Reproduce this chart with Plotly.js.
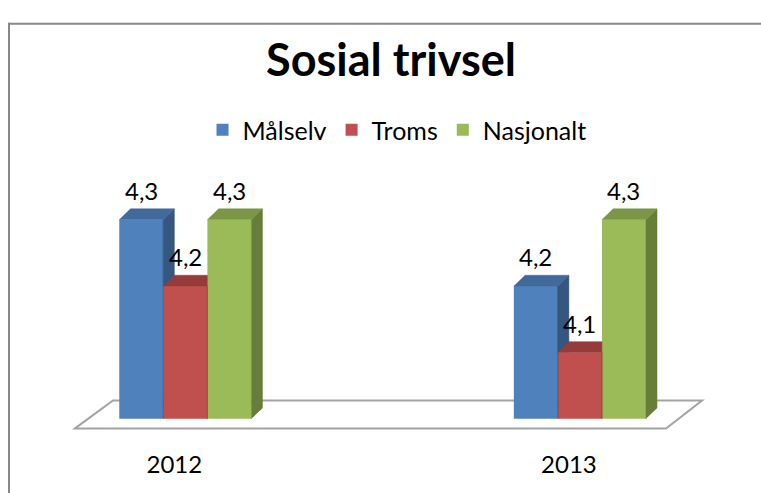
<!DOCTYPE html>
<html><head><meta charset="utf-8">
<script src="https://cdn.plot.ly/plotly-3.0.1.min.js"></script>
<style>html,body{margin:0;padding:0;background:#fff;}#chart{width:761px;height:493px;}</style>
</head><body><div id="chart"></div>
<script>
// ---- data ----
const categories = ['2012', '2013'];
const seriesNames = ['Målselv', 'Troms', 'Nasjonalt'];
const malselv = [4.3, 4.2];
const troms = [4.2, 4.1];
const nasjonalt = [4.3, 4.3];

// ---- style ----
const frontColors = ['#4F81BD', '#C0504D', '#9BBB59'];
const topColors = ['#41699A', '#953B39', '#7B9646'];
const sideColors = ['#35567F', '#843432', '#667E3A'];
const FONT = 'Lato, Carlito, "Liberation Sans", sans-serif';
const W = 761, H = 493;
const M = {l: 67, r: 43, t: 142, b: 41};
const xRange = [-0.3, 1.35], yRange = [3.95, 4.4];
const BASE = 4.0;
const BARGAP = 0.665;
const pxX = (W - M.l - M.r) / (xRange[1] - xRange[0]);
const pxY = (H - M.t - M.b) / (yRange[1] - yRange[0]);
const dxU = 11 / pxX, dyU = 11 / pxY;

const series = [malselv, troms, nasjonalt];
const xs = categories.map((c, i) => i);
const nS = series.length;
const bw = (1 - BARGAP) / nS;

function clip(poly, inside, inter) {
  const out = [];
  for (let i = 0; i < poly.length; i++) {
    const a = poly[i], b = poly[(i + 1) % poly.length];
    const ia = inside(a), ib = inside(b);
    if (ia) out.push(a);
    if (ia !== ib) out.push(inter(a, b));
  }
  return out;
}
const clipX = (poly, x0, keepLeft) => clip(poly,
  p => keepLeft ? p[0] <= x0 + 1e-12 : p[0] >= x0 - 1e-12,
  (a, b) => { const t = (x0 - a[0]) / (b[0] - a[0]); return [x0, a[1] + t * (b[1] - a[1])]; });
const clipY = (poly, y0) => clip(poly,
  p => p[1] >= y0 - 1e-12,
  (a, b) => { const t = (y0 - a[1]) / (b[1] - a[1]); return [a[0] + t * (b[0] - a[0]), y0]; });

function visiblePieces(poly, xr, vn) {
  if (vn === null) return [poly];
  const minY = Math.min(...poly.map(p => p[1]));
  if (minY >= vn) return [poly];
  const pieces = [];
  const left = clipX(poly, xr, true);
  if (left.length >= 3) pieces.push(left);
  const right = clipY(clipX(poly, xr, false), vn);
  if (right.length >= 3) pieces.push(right);
  return pieces;
}

const traces = [];
// front faces as bars
series.forEach((vals, s) => {
  traces.push({
    type: 'bar', name: seriesNames[s], x: xs, y: vals.map(v => v - BASE), base: BASE,
    marker: {color: frontColors[s], line: {width: 0}}, hoverinfo: 'skip'
  });
});
// top and side faces
series.forEach((vals, s) => {
  const topX = [], topY = [], sideX = [], sideY = [];
  xs.forEach((c, i) => {
    const v = vals[i];
    const xc = c + (s - (nS - 1) / 2) * bw;
    const xl = xc - bw / 2, xr = xc + bw / 2;
    const vn = s < nS - 1 ? series[s + 1][i] : null;
    const top = [[xl, v], [xr, v], [xr + dxU, v + dyU], [xl + dxU, v + dyU]];
    const side = [[xr, BASE], [xr, v], [xr + dxU, v + dyU], [xr + dxU, BASE + dyU]];
    visiblePieces(top, xr, vn).forEach(p => { p.forEach(q => { topX.push(q[0]); topY.push(q[1]); }); topX.push(null); topY.push(null); });
    visiblePieces(side, xr, vn).forEach(p => { p.forEach(q => { sideX.push(q[0]); sideY.push(q[1]); }); sideX.push(null); sideY.push(null); });
  });
  traces.push({type: 'scatter', mode: 'lines', x: sideX, y: sideY, fill: 'toself', fillcolor: sideColors[s],
    line: {color: sideColors[s], width: 0.5}, showlegend: false, hoverinfo: 'skip', connectgaps: false});
  traces.push({type: 'scatter', mode: 'lines', x: topX, y: topY, fill: 'toself', fillcolor: topColors[s],
    line: {color: topColors[s], width: 0.5}, showlegend: false, hoverinfo: 'skip', connectgaps: false});
});

// value labels
const annotations = [];
series.forEach((vals, s) => {
  xs.forEach((c, i) => {
    const xc = c + (s - (nS - 1) / 2) * bw;
    annotations.push({x: xc, y: vals[i] + dyU, xref: 'x', yref: 'y', yanchor: 'bottom', xanchor: 'center',
      text: String(vals[i]).replace('.', ','), showarrow: false, font: {family: FONT, size: 24, color: '#000'}, yshift: 2});
  });
});

// floor & border
const fxL = -0.2797, fxLb = -0.1834, fxRb = 1.3096, fxR = 1.2183;
const fyF = BASE - 10 / pxY, fyB = BASE + 19 / pxY;
const plotW = W - M.l - M.r, plotH = H - M.t - M.b;
const px2paperX = p => (p - M.l) / plotW, px2paperY = p => 1 - (p - M.t) / plotH;
const shapes = [
  {type: 'path', xref: 'x', yref: 'y', layer: 'below',
   path: `M${fxL},${fyF} L${fxLb},${fyB} L${fxRb},${fyB} L${fxR},${fyF} Z`,
   line: {color: '#A3A3A3', width: 2}},
  {type: 'line', xref: 'paper', yref: 'paper', x0: px2paperX(9), x1: px2paperX(9), y0: px2paperY(7), y1: px2paperY(500),
   line: {color: '#888888', width: 2}},
  {type: 'line', xref: 'paper', yref: 'paper', x0: px2paperX(8), x1: px2paperX(770), y0: px2paperY(8), y1: px2paperY(8),
   line: {color: '#888888', width: 2}}
];

const layout = {
  width: W, height: H, margin: M, paper_bgcolor: '#fff', plot_bgcolor: 'rgba(0,0,0,0)',
  title: {text: '<b>Sosial trivsel</b>', font: {family: FONT, size: 45, color: '#000'},
          xref: 'container', yref: 'container', x: 391 / W, xanchor: 'center', y: 1 - 60 / H, yanchor: 'middle'},
  legend: {orientation: 'h', xref: 'container', yref: 'container', x: 397 / W, xanchor: 'center',
           y: 1 - 130 / H, yanchor: 'middle', font: {family: FONT, size: 25, color: '#000'}, traceorder: 'normal'},
  barmode: 'group', bargap: BARGAP, bargroupgap: 0,
  xaxis: {range: xRange, tickvals: xs, ticktext: categories, showgrid: false, zeroline: false, showline: false,
          ticks: '', tickfont: {family: FONT, size: 24, color: '#000'}, ticklabelshift: -11, ticklabelstandoff: -4, fixedrange: true},
  yaxis: {range: yRange, visible: false, showgrid: false, zeroline: false, fixedrange: true},
  shapes: shapes, annotations: annotations, showlegend: true
};
Plotly.newPlot('chart', traces, layout, {displayModeBar: false, staticPlot: true});
</script></body></html>
